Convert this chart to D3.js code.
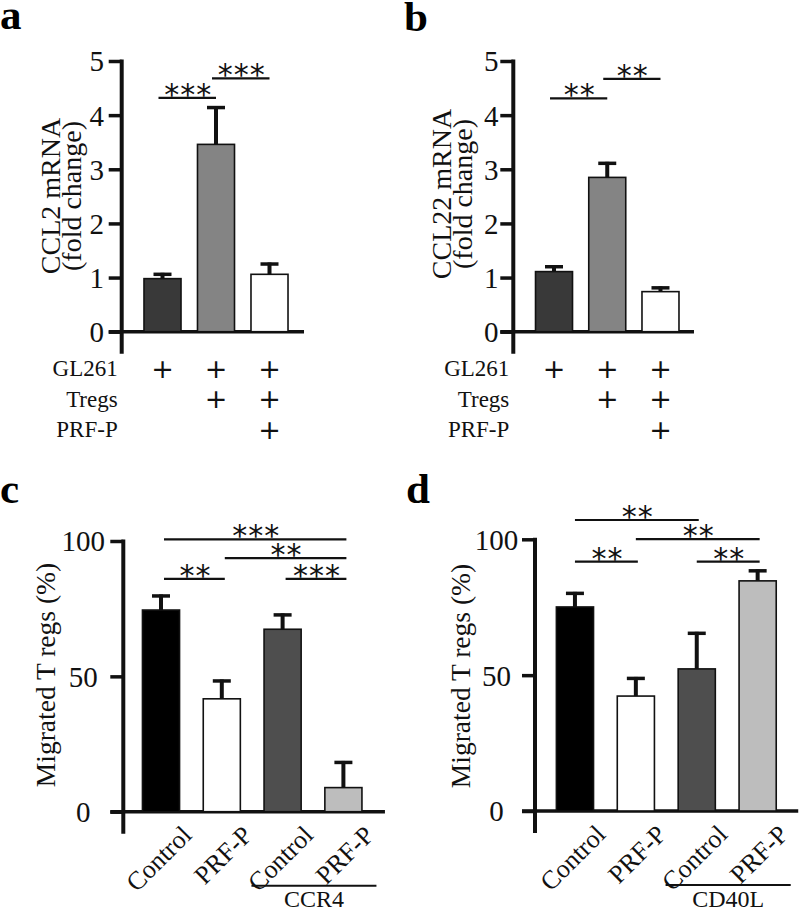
<!DOCTYPE html>
<html>
<head>
<meta charset="utf-8">
<script src="https://cdn.jsdelivr.net/npm/d3@7"></script>
<style>
  html, body { margin: 0; padding: 0; background: #fff; }
  svg { display: block; }
</style>
</head>
<body>
<svg id="chart" width="800" height="911"></svg>
<script>
// ---------------- DATA ----------------
const mrnaGroups = ["GL261", "GL261 + Tregs", "GL261 + Tregs + PRF-P"];
const ccl2Means = [0.98, 3.46, 1.06];
const ccl2Errors = [0.08, 0.68, 0.19];
const ccl22Means = [1.11, 2.85, 0.74];
const ccl22Errors = [0.09, 0.26, 0.07];
const mrnaTicks = [0, 1, 2, 3, 4, 5];
const mrnaFills = ["#393939", "#848484", "#ffffff"];

const conditionRows = ["GL261", "Tregs", "PRF-P"];
const conditionMatrix = [
  [true, true, true],
  [false, true, true],
  [false, false, true]
];

const migrationLabels = ["Control", "PRF-P", "Control", "PRF-P"];
const ccr4Means = [74.5, 41.7, 67.4, 8.9];
const ccr4Errors = [5.2, 6.6, 5.3, 9.3];
const cd40lMeans = [75.1, 42.3, 52.3, 84.7];
const cd40lErrors = [5.0, 6.5, 13.1, 3.7];
const migrationTicks = [0, 50, 100];
const migrationFills = ["#000000", "#ffffff", "#4e4e4e", "#bdbdbd"];

// significance brackets: [from bar, to bar, height in data units, label]
const ccl2Sig = [[0, 1, 4.32, "***"], [1, 2, 4.68, "***"]];
const ccl22Sig = [[0, 1, 4.31, "**"], [1, 2, 4.67, "**"]];
const ccr4Sig = [[0, 3, 100.6, "***"], [1, 3, 93.7, "**"], [0, 1, 86.0, "**"], [2, 3, 86.0, "***"]];
const cd40lSig = [[0, 2, 107.1, "**"], [1, 3, 100.1, "**"], [0, 1, 91.8, "**"], [2, 3, 91.8, "**"]];

// ---------------- DRAWING ----------------
const svg = d3.select("#chart");
const SERIF = "'Liberation Serif', 'Times New Roman', serif";

function drawPanel(o) {
  const g = svg.append("g");
  const n = o.means.length;
  const y = d3.scaleLinear().domain([0, o.ticks[o.ticks.length - 1]]).range([o.y0, o.yTop]);
  const x = d3.scaleBand().domain(d3.range(n)).range(o.xRange)
    .paddingInner(o.pad).paddingOuter(o.pad / 2);
  const cx = i => x(i) + x.bandwidth() / 2;

  // panel letter
  g.append("text").attr("x", o.letterX).attr("y", o.letterY)
    .attr("font-family", SERIF).attr("font-weight", "bold").attr("font-size", 43)
    .text(o.letter);

  // y axis ticks via d3.axisLeft
  const ax = g.append("g").attr("transform", `translate(${o.axisX},0)`)
    .call(d3.axisLeft(y).tickValues(o.ticks).tickSize(13).tickFormat(d3.format("d")));
  ax.select(".domain").remove();
  ax.selectAll(".tick line").attr("stroke", "#111").attr("stroke-width", 3.5);
  ax.selectAll(".tick text")
    .attr("font-family", SERIF).attr("font-size", 29).attr("fill", "#111")
    .attr("text-anchor", "middle").attr("x", -o.labelOff).attr("dy", "0.34em");

  // axis lines
  g.append("line").attr("x1", o.axisX).attr("x2", o.axisX)
    .attr("y1", y(o.ticks[o.ticks.length - 1]) - 1.5).attr("y2", o.y0 + 22)
    .attr("stroke", "#111").attr("stroke-width", 4);
  g.append("line").attr("x1", o.axisX - 13).attr("x2", x(n - 1) + x.bandwidth() + o.baseExtra)
    .attr("y1", o.y0).attr("y2", o.y0)
    .attr("stroke", "#111").attr("stroke-width", 3.5);

  // error bars (upper only)
  const errG = g.append("g");
  errG.selectAll("line.stem").data(o.means).join("line").attr("class", "stem")
    .attr("x1", (d, i) => cx(i)).attr("x2", (d, i) => cx(i))
    .attr("y1", d => y(d)).attr("y2", (d, i) => y(d + o.errors[i]) - 1.5)
    .attr("stroke", "#111").attr("stroke-width", 4);
  errG.selectAll("line.cap").data(o.means).join("line").attr("class", "cap")
    .attr("x1", (d, i) => cx(i) - 9).attr("x2", (d, i) => cx(i) + 9)
    .attr("y1", (d, i) => y(d + o.errors[i])).attr("y2", (d, i) => y(d + o.errors[i]))
    .attr("stroke", "#111").attr("stroke-width", 3.5);

  // bars
  g.append("g").selectAll("rect").data(o.means).join("rect")
    .attr("x", (d, i) => x(i)).attr("width", x.bandwidth())
    .attr("y", d => y(d)).attr("height", d => o.y0 - y(d))
    .attr("fill", (d, i) => o.fills[i]).attr("stroke", "#111").attr("stroke-width", 1.6);

  // significance
  const sg = g.append("g");
  o.sig.forEach(([a, b, h, lab]) => {
    sg.append("line").attr("x1", cx(a) + o.sigOff[0]).attr("x2", cx(b) + o.sigOff[1])
      .attr("y1", y(h)).attr("y2", y(h)).attr("stroke", "#111").attr("stroke-width", 2.2);
    sg.append("text").attr("x", (cx(a) + cx(b)) / 2 + (o.sigOff[0] + o.sigOff[1]) / 2 + 1)
      .attr("y", y(h) + 7)
      .attr("text-anchor", "middle").attr("font-family", "'DejaVu Sans', sans-serif")
      .attr("font-size", 30).attr("letter-spacing", 1).attr("fill", "#111").text(lab);
  });

  // y title
  o.title.forEach((t, k) => {
    g.append("text")
      .attr("transform", `translate(${o.titleX[k]},${o.titleY}) rotate(-90)`)
      .attr("text-anchor", "middle").attr("font-family", SERIF)
      .attr("font-size", o.titleSize).attr("fill", "#111")
      .text(t);
  });

  return { g, x, y, cx };
}

function conditionTable(p, o) {
  conditionRows.forEach((r, k) => {
    const yy = o.y0 + 36.5 + k * 30.5;
    p.g.append("text").attr("x", o.axisX - 4).attr("y", yy).attr("dy", "0.35em")
      .attr("text-anchor", "end").attr("font-family", SERIF).attr("font-size", 23)
      .attr("fill", "#111").text(r);
    conditionMatrix[k].forEach((on, i) => {
      if (!on) return;
      p.g.append("text").attr("x", p.cx(i)).attr("y", yy).attr("dy", "0.36em")
        .attr("text-anchor", "middle").attr("font-family", "'DejaVu Sans', sans-serif")
        .attr("font-size", 27).attr("fill", "#111").text("+");
    });
  });
}

function migrationLabelsDraw(p, o, group) {
  migrationLabels.forEach((t, i) => {
    p.g.append("text")
      .attr("transform", `translate(${p.cx(i) + 32},${o.y0 + 25}) rotate(-45)`)
      .attr("text-anchor", "end").attr("font-family", SERIF).attr("font-size", 26)
      .attr("fill", "#111").text(t);
  });
  const xa = p.x(2) - 12.6, xb = p.x(3) + p.x.bandwidth() + 14.5;
  p.g.append("line").attr("x1", xa).attr("x2", xb).attr("y1", o.y0 + 74).attr("y2", o.y0 + 74)
    .attr("stroke", "#111").attr("stroke-width", 2);
  p.g.append("text").attr("x", (xa + xb) / 2).attr("y", o.y0 + 95.5)
    .attr("text-anchor", "middle").attr("font-family", SERIF).attr("font-size", 24)
    .attr("fill", "#111").text(group);
}

// Panel a
const oa = {
  letter: "a", letterX: 0, letterY: 29,
  means: ccl2Means, errors: ccl2Errors, fills: mrnaFills, ticks: mrnaTicks, sig: ccl2Sig,
  y0: 331.7, yTop: 61, axisX: 121.7, labelOff: 25,
  xRange: [135.75, 296.25], pad: 0.308, baseExtra: 16, sigOff: [-4, 0],
  title: ["CCL2 mRNA", "(fold change)"], titleX: [60, 81], titleY: 196, titleSize: 28
};
const pa = drawPanel(oa);
conditionTable(pa, oa);

// Panel b
const ob = {
  letter: "b", letterX: 404, letterY: 31,
  means: ccl22Means, errors: ccl22Errors, fills: mrnaFills, ticks: mrnaTicks, sig: ccl22Sig,
  y0: 331.7, yTop: 61, axisX: 513.3, labelOff: 22,
  xRange: [527.4, 687.1], pad: 0.305, baseExtra: 15, sigOff: [-4, 0],
  title: ["CCL22 mRNA", "(fold change)"], titleX: [451, 472], titleY: 194, titleSize: 28
};
const pb = drawPanel(ob);
conditionTable(pb, ob);

// Panel c
const oc = {
  letter: "c", letterX: 0, letterY: 503,
  means: ccr4Means, errors: ccr4Errors, fills: migrationFills, ticks: migrationTicks, sig: ccr4Sig,
  y0: 811.7, yTop: 541, axisX: 123.3, labelOff: 40,
  xRange: [130.6, 373.8], pad: 0.39, baseExtra: 23, sigOff: [3, 3],
  title: ["Migrated T regs (%)"], titleX: [55], titleY: 675, titleSize: 27.5
};
const pc = drawPanel(oc);
migrationLabelsDraw(pc, oc, "CCR4");

// Panel d
const od = {
  letter: "d", letterX: 406, letterY: 503,
  means: cd40lMeans, errors: cd40lErrors, fills: migrationFills, ticks: migrationTicks, sig: cd40lSig,
  y0: 811, yTop: 539.3, axisX: 535, labelOff: 38.5,
  xRange: [544.5, 788.1], pad: 0.39, baseExtra: 22, sigOff: [0, 2],
  title: ["Migrated T regs (%)"], titleX: [470], titleY: 676, titleSize: 27.5
};
const pd = drawPanel(od);
migrationLabelsDraw(pd, od, "CD40L");
</script>
</body>
</html>
